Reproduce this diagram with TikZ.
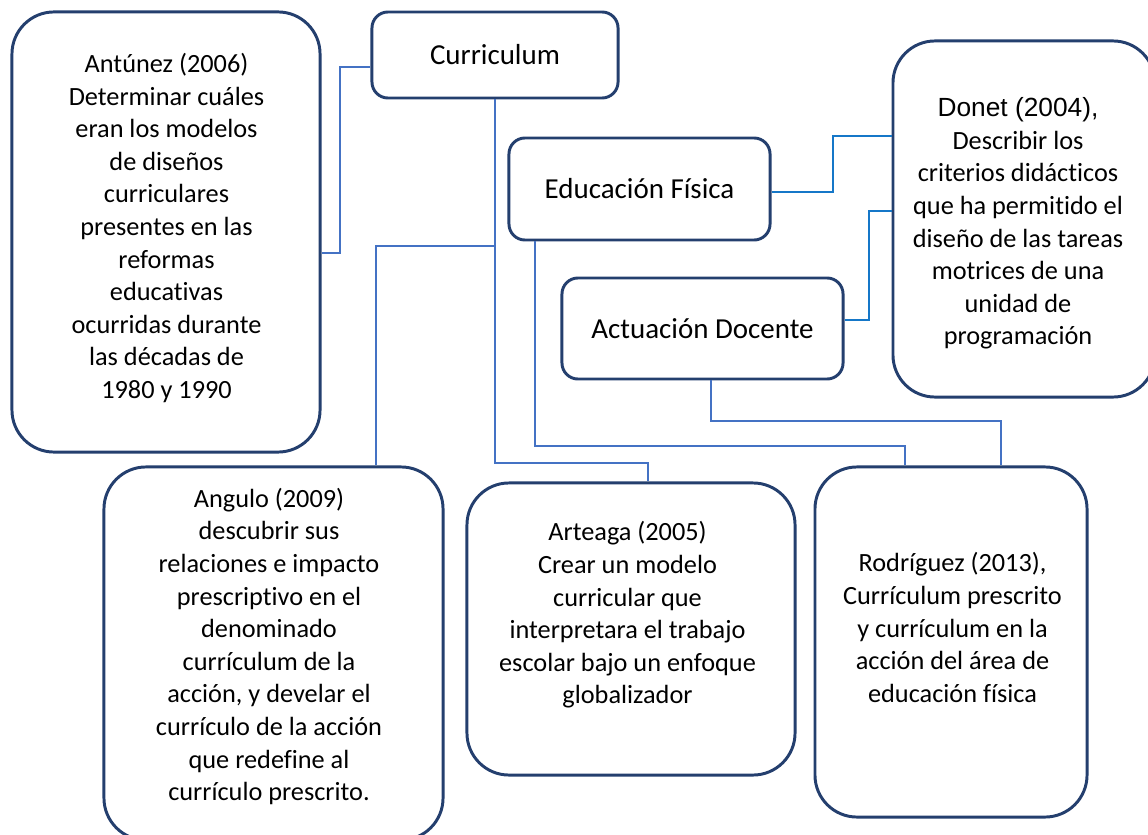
\documentclass[tikz,border=0pt]{standalone}
\usepackage{fontspec}
\setmainfont{Carlito}[Ligatures=NoCommon]
\newfontfamily\arialfont{Liberation Sans}
\usepackage{tikz}

\definecolor{navy}{HTML}{243F6E}
\definecolor{linkblue}{HTML}{4472C4}
\definecolor{donetblue}{HTML}{1577C8}

\newcommand{\cardfont}{\fontsize{18.7}{23.2}\selectfont}
\newcommand{\tagfont}{\fontsize{20.6}{24}\selectfont}

\tikzset{
	card/.style={draw=navy,line width=2.1pt,rounded corners=1.05cm,inner sep=0pt},
	tag/.style={card,rounded corners=0.4cm,font=\tagfont},
	txt/.style={align=center,font=\cardfont,inner sep=0pt},
	link/.style={draw=linkblue,line width=0.85pt},
	bridge/.style={draw=donetblue,line width=1.5pt}
}

\begin{document}
\begin{tikzpicture}[x=0.025cm,y=-0.025cm]
		\useasboundingbox (0,0) rectangle (1148,834);
		% cajas
		\node [card,minimum width=7.7cm,minimum height=11cm] (antunez) at (166,232) {};
		\node [tag,minimum width=6.15cm,minimum height=2.15cm] (curr) at (495,55) {Curriculum};
		\node [tag,minimum width=6.525cm,minimum height=2.55cm] (edu) at (639.5,189) {Educación Física};
		\node [tag,minimum width=7.025cm,minimum height=2.525cm] (act) at (702.5,328.5) {Actuación Docente};
		\node [card,minimum width=6.55cm,minimum height=8.9cm] (donet) at (1024,219) {};
		\node [card,minimum width=8.475cm,minimum height=9.325cm] (angulo) at (273.5,653.5) {};
		\node [card,minimum width=8.2cm,minimum height=7.3cm] (arteaga) at (631,629) {};
		\node [card,minimum width=6.8cm,minimum height=8.75cm] (rod) at (951,642) {};
		% textos
		\node [txt] (antunez-t) at (166.5,228) {Antúnez (2006)\\Determinar cuáles\\eran los modelos\\de diseños\\curriculares\\presentes en las\\reformas\\educativas\\ocurridas durante\\las décadas de\\1980 y 1990};
		\node [txt] (donet-t) at (1018,223.5) {{\arialfont Donet (2004),}\\Describir los\\criterios didácticos\\que ha permitido el\\diseño de las tareas\\motrices de una\\unidad de\\programación};
		\node [txt] (angulo-t) at (269,646.5) {Angulo (2009)\\descubrir sus\\relaciones e impacto\\prescriptivo en el\\denominado\\currículum de la\\acción, y develar el\\currículo de la acción\\que redefine al\\currículo prescrito.};
		\node [txt] (arteaga-t) at (627.5,615) {Arteaga (2005)\\Crear un modelo\\curricular que\\interpretara el trabajo\\escolar bajo un enfoque\\globalizador};
		\node [txt] (rod-t) at (952.5,627.5) {Rodríguez (2013),\\Currículum prescrito\\y currículum en la\\acción del área de\\educación física};
		% conectores
		\draw [link] (curr.west |- 0,67) -- (340,67) |- (antunez.east |- 0,253);
		\draw [link] (curr.south) -- (curr.south |- 0,463) -| (arteaga.north -| 648,0);
		\draw [link] (curr.south |- 0,246) -| (angulo.north -| 376,0);
		\draw [link] (edu.south -| 535,0) |- (905,446) -- (rod.north -| 905,0);
		\draw [link] (act.south -| 711,0) |- (1001,421) -- (rod.north -| 1001,0);
		\draw [bridge] (edu.east |- 0,192) -- (833,192) |- (donet.west |- 0,136);
		\draw [bridge] (act.east |- 0,320) -- (869,320) |- (donet.west |- 0,211);
	\end{tikzpicture}
\end{document}
